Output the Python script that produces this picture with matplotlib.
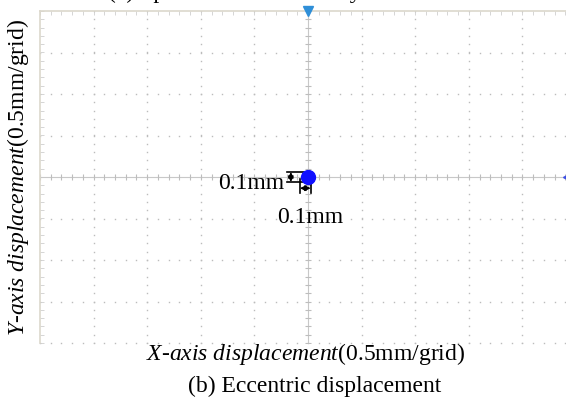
import numpy as np
import matplotlib
matplotlib.use("Agg")
import matplotlib.pyplot as plt

# === Data (grid units, 1 grid = 0.5 mm) ===
ball_x = [0.0]
ball_y = [0.0]
top_marker = [0.0, 4.0]      # trigger marker on top edge
right_marker = [4.85, 0.0]   # trigger marker on right edge
dim_mm = 0.1                 # annotated eccentricity (mm)
grid_mm = 0.5

plt.rcParams['font.family'] = ['Liberation Serif', 'DejaVu Serif']
plt.rcParams['mathtext.fontset'] = 'custom'
plt.rcParams['mathtext.rm'] = 'Liberation Serif'
plt.rcParams['mathtext.it'] = 'Liberation Serif:italic'

W, H = 566, 411
FS = 17
fig = plt.figure(figsize=(W / 100, H / 100), dpi=100)
ax = fig.add_axes([40 / W, (H - 343) / H, 536 / W, 332 / H])
ax.set_xlim(-5, 5)
ax.set_ylim(-4, 4)

grid_c = "#bcbcbc"
# dotted grid
minor_x = np.arange(-5, 5.01, 0.2)
minor_y = np.arange(-4, 4.01, 0.2)
for gy in range(-3, 4):
    if gy == 0:
        continue
    ax.plot(minor_x, np.full_like(minor_x, gy), ls="none", marker="s",
            ms=1.0, mew=0, color=grid_c)
for gx in range(-4, 5):
    if gx == 0:
        continue
    ax.plot(np.full_like(minor_y, gx), minor_y, ls="none", marker="s",
            ms=1.0, mew=0, color=grid_c)
ax.plot(minor_x, np.full_like(minor_x, -4), ls="none", marker="s",
        ms=1.0, mew=0, color=grid_c, clip_on=False)

# centre axes with minor ticks
ax.axhline(0, color="#c8c8c8", lw=0.8)
ax.axvline(0, color="#c8c8c8", lw=0.8)
ax.plot(minor_x, np.zeros_like(minor_x), ls="none", marker="|", ms=5,
        mew=0.8, color="#bdbdbd")
ax.plot(np.zeros_like(minor_y), minor_y, ls="none", marker="_", ms=5,
        mew=0.8, color="#bdbdbd")

# frame
for s in ["bottom", "right"]:
    ax.spines[s].set_visible(False)
for s in ["top", "left"]:
    ax.spines[s].set_color("#dcd8cc")
    ax.spines[s].set_linewidth(1.2)
ax.set_xticks([])
ax.set_yticks([])
ax.set_xticks(minor_x, minor=True)
ax.set_yticks(minor_y, minor=True)
ax.tick_params(which="minor", direction="in", length=3, color="#cfcfcf",
               top=True, bottom=False, left=True, right=False,
               labeltop=False, labelbottom=False, labelleft=False)

# markers
ax.plot(*top_marker, marker="v", ms=7, color="#2f8fd8", clip_on=False, zorder=5)
ax.plot(*right_marker, marker="<", ms=7, color="#3c4ee6", clip_on=False, zorder=5)
ax.plot(ball_x, ball_y, "o", ms=10, color="#1010ff", zorder=6)

# dimension marks
d = dim_mm / grid_mm
k = "black"
ax.plot([-0.40, -0.08], [d / 2 + 0.02, d / 2 + 0.02], color=k, lw=1.2)
ax.plot([-0.40, -0.08], [-d / 2 - 0.02, -d / 2 - 0.02], color=k, lw=1.2)
ax.annotate("", xy=(-0.32, d / 2 + 0.02), xytext=(-0.32, -d / 2 - 0.02),
            arrowprops=dict(arrowstyle="<|-|>", color=k, lw=1.0,
                            mutation_scale=8, shrinkA=0, shrinkB=0))
ax.plot([-d / 2 - 0.05, -d / 2 - 0.05], [-0.05, -0.38], color=k, lw=1.2)
ax.plot([d / 2 - 0.05, d / 2 - 0.05], [-0.05, -0.38], color=k, lw=1.2)
ax.annotate("", xy=(-d / 2 - 0.05, -0.27), xytext=(d / 2 - 0.05, -0.27),
            arrowprops=dict(arrowstyle="<|-|>", color=k, lw=1.0,
                            mutation_scale=8, shrinkA=0, shrinkB=0))
ax.text(-0.45, -0.16, "%.1fmm" % dim_mm, ha="right", va="center", fontsize=FS)
ax.text(0.04, -0.98, "%.1fmm" % dim_mm, ha="center", va="center", fontsize=FS)

# labels
fig.text(18 / W, 1 - 177 / H,
         r"$\mathit{Y}$-$\mathit{axis\ displacement}$(0.5mm/grid)",
         rotation=90, ha="center", va="center", fontsize=FS)
fig.text(306 / W, 1 - 354 / H,
         r"$\mathit{X}$-$\mathit{axis\ displacement}$(0.5mm/grid)",
         ha="center", va="center", fontsize=FS)
fig.text(315 / W, 1 - 386 / H, "(b) Eccentric displacement",
         ha="center", va="center", fontsize=FS)
# cropped caption of the panel above (only descenders remain visible)
fig.text(108 / W, 1 + 2 / H, "(a) Spot centre of the array",
         ha="left", va="baseline", fontsize=FS)

fig.savefig("out.png", dpi=100)
